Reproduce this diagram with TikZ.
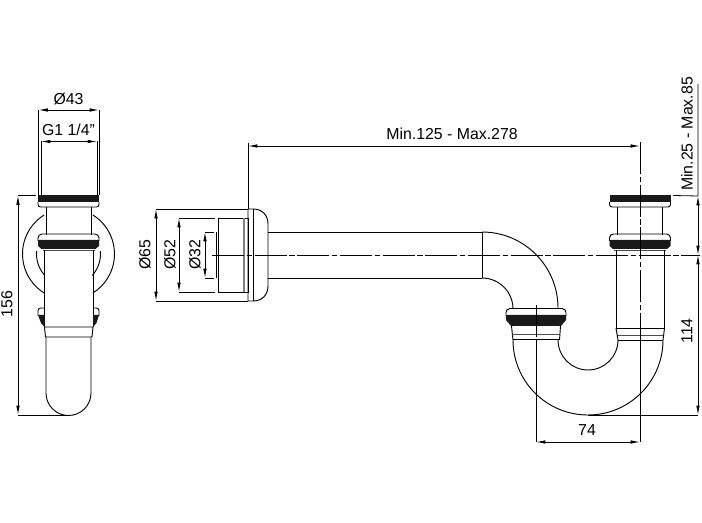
\documentclass[tikz,border=0pt]{standalone}
\usepackage{fontspec}
\setmainfont{Liberation Sans}
\usetikzlibrary{arrows.meta}
\definecolor{SiphonBand}{HTML}{1A1A1A}
\tikzset{
  part/.style={line width=0.7pt, black},
  thinpart/.style={line width=0.4pt, black!70},
  dimline/.style={line width=0.6pt, black, <->, >={Latex[length=7pt,width=2.6pt]}},
  extline/.style={line width=0.6pt, black},
  axisline/.style={line width=0.6pt, black, dash pattern=on 24pt off 2pt on 4pt off 2pt},
  dimtext/.style={font=\fontsize{11.9}{13}\selectfont, inner sep=0pt}
}
\begin{document}
\begin{tikzpicture}[x=0.75pt,y=0.75pt,yscale=-1]
\useasboundingbox (0,0) rectangle (702,523);

% Top collars, same in side and front view
\foreach \x in {68.5,640}{
  \draw[part] (\x-22.5,207) -- (\x-22.5,235) (\x+22.5,207) -- (\x+22.5,235);
  \fill[SiphonBand] (\x-30.5,195) rectangle (\x+30.5,202);
  \draw[part] (\x-30.5,202) -- (\x-30.5,204.5) arc[start angle=180,end angle=90,radius=2.5] -- (\x+28,207) arc[start angle=90,end angle=0,radius=2.5] -- (\x+30.5,202);
  \draw[part, rounded corners=3pt] (\x-30.5,241) -- (\x-30.5,234) -- (\x+30.5,234) -- (\x+30.5,241);
  \fill[SiphonBand] (\x-30.5,240) -- (\x+30.5,240) -- (\x+30.5,246) -- (\x+27,249) -- (\x-27,249) -- (\x-30.5,246) -- cycle;
  \draw[thinpart] (\x-26,250.5) -- (\x+26,250.5);
}

% Side view, round flange behind the trap
\draw[part] (68.5,254) ++(-58:46) arc[start angle=-58,end angle=58,radius=46];
\draw[part] (68.5,254) ++(122:46) arc[start angle=122,end angle=238,radius=46];
\draw[part] (68.5,254) ++(-5:32) arc[start angle=-5,end angle=42,radius=32];
\draw[part] (68.5,254) ++(138:32) arc[start angle=138,end angle=185,radius=32];
\draw[part] (44.5,250) -- (44.5,327) (93,250) -- (93,327);
\fill[SiphonBand] (38,315) -- (44.5,315) -- (44.5,327) -- (41,323) -- cycle;
\fill[SiphonBand] (99,315) -- (93,315) -- (93,327) -- (96.5,323) -- cycle;
\draw[part, rounded corners=2pt] (44.5,308) -- (38,308) -- (38,316);
\draw[part, rounded corners=2pt] (93,308) -- (99,308) -- (99,316);
\draw[part] (44.5,327) -- (93,327) (45.5,337) -- (92,337) (44.5,327) -- (45.5,337) (93,327) -- (92,337);
\draw[part] (46,337) -- (46,393) arc[start angle=180,end angle=0,radius=22.5] -- (91,337);

% Front view, wall flange and tube
\draw[part] (248,209) -- (253,209) .. controls (262,209) and (268,215) .. (268,224) -- (268,286) .. controls (268,295) and (262,301) .. (253,301) -- (248,301) -- cycle;
\draw[part] (253,209) -- (253,301);
\draw[part] (218,218) rectangle (248,292);
\fill[gray] (243,218) rectangle (245,292);
\draw[part] (216.5,232) -- (216.5,278);
\draw[part] (268,232) -- (482,232) (268,278) -- (482,278) (482,232) -- (482,278);

% Elbow
\draw[part] (482,232) arc[start angle=-90,end angle=0,radius=76];
\draw[part] (482,278) arc[start angle=-90,end angle=0,radius=31];

% Lower collar on the elbow
\draw[part, rounded corners=3pt] (506,316) -- (506,308.5) -- (566,308.5) -- (566,316);
\fill[SiphonBand] (506,315) -- (566,315) -- (566,320) -- (561,326) -- (511,326) -- (506,320) -- cycle;
\draw[part] (511.5,326) -- (513,340) (560.5,326) -- (559.5,340);
\draw[thinpart] (512,334.5) -- (560,334.5);
\draw[part] (513,339.5) -- (560,339.5);

% U bend
\draw[part] (513,340) arc[start angle=180,end angle=0,radius=75];
\draw[part] (558,340) arc[start angle=180,end angle=0,radius=30];

% Right tube and its lower collar
\draw[part] (616,250) -- (616,328) (664.5,250) -- (664.5,328);
\draw[part] (616,328) -- (664.5,328) (618,340) -- (663,340);
\draw[thinpart] (617,335) -- (663.5,335);
\draw[part] (616,328) -- (618,340) (664.5,328) -- (663,340);

% Centre lines
\draw[axisline] (212,255) -- (700,255);
\draw[axisline] (536,305) -- (536,340);
\draw[axisline] (640,142) -- (640,345);

% Dimensions, side view
\coordinate (a43) at (38.5,110);
\coordinate (b43) at (99,110);
\draw[extline] (a43) -- (38.5,195) (b43) -- (99,195);
\draw[dimline] (a43) -- (b43);
\node[dimtext] (t43) at (68.5,99) {Ø43};
\coordinate (ag) at (41,141.5);
\coordinate (bg) at (97,141.5);
\draw[extline] (ag) -- (41,195) (bg) -- (97,195);
\draw[dimline] (ag) -- (bg);
\node[dimtext] (tg) at (68.5,130) {G1 1/4"};
\coordinate (a156) at (18,195.5);
\coordinate (b156) at (18,415);
\draw[extline] (a156) -- (36,195.5) (b156) -- (68,415);
\draw[dimline] (a156) -- (b156);
\node[dimtext, rotate=90] (t156) at (7,304) {156};

% Dimensions, front view
\coordinate (a65) at (156,209);
\coordinate (b65) at (156,301);
\draw[extline] (a65) -- (248,209) (b65) -- (248,301);
\draw[dimline] (a65) -- (b65);
\node[dimtext, rotate=90] (t65) at (145,255) {Ø65};
\coordinate (a52) at (179,218);
\coordinate (b52) at (179,292);
\draw[extline] (a52) -- (215,218) (b52) -- (215,292);
\draw[dimline] (a52) -- (b52);
\node[dimtext, rotate=90] (t52) at (170,255) {Ø52};
\coordinate (a32) at (205,232);
\coordinate (b32) at (205,278);
\draw[extline] (a32) -- (214,232) (b32) -- (214,278);
\draw[dimline] (a32) -- (b32);
\node[dimtext, rotate=90] (t32) at (195,255) {Ø32};
\coordinate (amin) at (248,146);
\coordinate (bmin) at (640,146);
\draw[extline] (248,143) -- (248,209);
\draw[dimline] (amin) -- (bmin);
\node[dimtext] (tmin) at (452,134) {Min.125 - Max.278};

% Dimensions, right side
\coordinate (a25) at (698,196);
\coordinate (b25) at (698,255);
\coordinate (b114) at (698,415);
\draw[extline] (673,195.5) -- (a25) (698,84) -- (a25);
\draw[dimline] (a25) -- (b25);
\draw[dimline] (b25) -- (b114);
\draw[extline] (588,415) -- (b114);
\node[dimtext, rotate=90] (t25) at (687,134) {Min.25 - Max.85};
\node[dimtext, rotate=90] (t114) at (687,331) {114};
\coordinate (a74) at (536,442);
\coordinate (b74) at (640,442);
\draw[extline] (536,340) -- (a74) (640,345) -- (b74);
\draw[dimline] (a74) -- (b74);
\node[dimtext] (t74) at (587,430) {74};
\end{tikzpicture}
\end{document}
